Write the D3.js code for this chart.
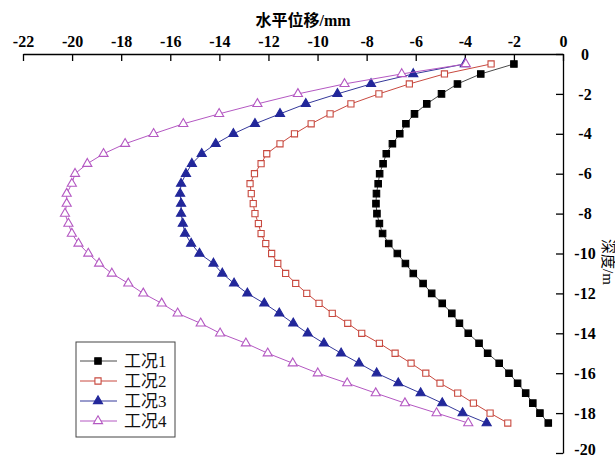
<!DOCTYPE html>
<html><head><meta charset="utf-8">
<script src="https://cdn.jsdelivr.net/npm/d3@7/dist/d3.min.js"></script>
<style>body{margin:0;background:#fff}svg{display:block}</style>
</head><body>
<svg id="c" width="615" height="460"></svg>
<script>
const depths = [0.5,1,1.5,2,2.5,3,3.5,4,4.5,5,5.5,6,6.5,7,7.5,8,8.5,9,9.5,10,10.5,11,11.5,12,12.5,13,13.5,14,14.5,15,15.5,16,16.5,17,17.5,18,18.5];
const case1 = [-2.0,-3.35,-4.3,-4.95,-5.55,-6.05,-6.4,-6.65,-6.95,-7.2,-7.33,-7.47,-7.53,-7.6,-7.62,-7.58,-7.48,-7.35,-7.1,-6.75,-6.42,-6.1,-5.7,-5.35,-4.92,-4.53,-4.22,-3.86,-3.42,-3.07,-2.6,-2.2,-1.85,-1.52,-1.23,-0.94,-0.6];
const case2 = [-2.93,-4.83,-6.26,-7.5,-8.64,-9.49,-10.26,-10.94,-11.53,-12.07,-12.3,-12.57,-12.75,-12.7,-12.62,-12.55,-12.41,-12.3,-12.11,-11.87,-11.62,-11.3,-10.89,-10.44,-9.94,-9.4,-8.77,-8.2,-7.48,-6.84,-6.19,-5.59,-5.01,-4.29,-3.65,-2.97,-2.25];
const case3 = [-4.0,-6.1,-7.82,-9.19,-10.48,-11.53,-12.55,-13.43,-14.15,-14.72,-15.12,-15.36,-15.56,-15.6,-15.56,-15.56,-15.49,-15.4,-15.15,-14.81,-14.24,-13.88,-13.4,-12.86,-12.17,-11.56,-10.99,-10.4,-9.74,-9.04,-8.31,-7.59,-6.71,-5.8,-4.92,-4.09,-3.11];
const case4 = [-3.96,-6.57,-8.9,-10.8,-12.45,-14.01,-15.47,-16.68,-17.84,-18.72,-19.38,-19.88,-20.01,-20.22,-20.22,-20.29,-20.15,-20.01,-19.74,-19.34,-18.9,-18.38,-17.71,-17.1,-16.35,-15.7,-14.76,-13.97,-12.92,-12.03,-11.01,-9.99,-8.79,-7.63,-6.44,-5.15,-3.86];
const seriesNames = ["工况1","工况2","工况3","工况4"];
const xTicks = [-22,-20,-18,-16,-14,-12,-10,-8,-6,-4,-2,0];
const yTicks = [0,-2,-4,-6,-8,-10,-12,-14,-16,-18,-20];
const xTitle = "水平位移/mm";
const yTitle = "深度/m";

const svg = d3.select("#c");
const x = d3.scaleLinear().domain([-22,0]).range([23,563]);
const y = d3.scaleLinear().domain([0,-20]).range([54,453]);
const latin = "'Liberation Serif','Times New Roman',serif";
const mixed = "'Liberation Serif','Noto Sans CJK SC',serif";

// top axis
const gx = svg.append("g").attr("transform",`translate(0,${y(0)})`)
  .call(d3.axisTop(x).tickValues(xTicks).tickSize(-7).tickSizeOuter(0).tickPadding(7).tickFormat(d=>String(d)));
gx.select(".domain").attr("stroke","#000").attr("stroke-width",1.3);
gx.selectAll(".tick line").attr("stroke","#000").attr("stroke-width",1.3);
gx.selectAll("text").attr("font-family",latin).attr("font-weight","bold").attr("font-size",16).attr("fill","#000");

// right axis
const gy = svg.append("g").attr("transform",`translate(${x(0)},0)`)
  .call(d3.axisRight(y).tickValues(yTicks).tickSize(-7).tickSizeOuter(0).tickPadding(22).tickFormat(d=>String(d)));
gy.select(".domain").attr("stroke","#000").attr("stroke-width",1.3);
gy.selectAll(".tick line").attr("stroke","#000").attr("stroke-width",1.3);
gy.selectAll("text").attr("text-anchor","middle").attr("font-family",latin).attr("font-weight","bold").attr("font-size",16).attr("fill","#000")
  .attr("dy",d=>d===-20 ? "0.12em" : "0.32em");

svg.append("text").attr("x",303).attr("y",26).attr("text-anchor","middle")
  .attr("font-family",mixed).attr("font-weight","bold").attr("font-size",16).text(xTitle);
svg.append("text").attr("transform","translate(603,262) rotate(90)").attr("text-anchor","middle")
  .attr("font-family",mixed).attr("font-size",15).text(yTitle);

const styles = [
  {data:case1, line:"#4a4a4a", sym:d3.symbolSquare, size:42, fill:"#000", stroke:"#000"},
  {data:case2, line:"#c8493f", sym:d3.symbolSquare, size:38, fill:"#fff", stroke:"#c8493f"},
  {data:case3, line:"#34389a", sym:d3.symbolTriangle, size:36, fill:"#22279a", stroke:"#22279a"},
  {data:case4, line:"#b458c2", sym:d3.symbolTriangle, size:36, fill:"#fff", stroke:"#b458c2"}
];
const line = d3.line().x(d=>x(d[0])).y(d=>y(-d[1]));
styles.forEach(s=>{
  const pts = s.data.map((v,i)=>[v,depths[i]]);
  svg.append("path").datum(pts).attr("d",line).attr("fill","none").attr("stroke",s.line).attr("stroke-width",1);
  svg.append("g").selectAll("path").data(pts).join("path")
    .attr("transform",d=>`translate(${x(d[0])},${y(-d[1])})`)
    .attr("d",d3.symbol(s.sym,s.size)).attr("fill",s.fill).attr("stroke",s.stroke).attr("stroke-width",1.1);
});

// legend
const lg = svg.append("g");
lg.append("rect").attr("x",76).attr("y",342).attr("width",99).attr("height",95).attr("fill","#fff").attr("stroke","#444").attr("stroke-width",1);
const ly = d3.scalePoint().domain(seriesNames).range([361,421]);
styles.forEach((s,i)=>{
  const yy = ly(seriesNames[i]);
  lg.append("line").attr("x1",80).attr("x2",117).attr("y1",yy).attr("y2",yy).attr("stroke",s.line).attr("stroke-width",1);
  lg.append("path").attr("transform",`translate(98,${yy})`).attr("d",d3.symbol(s.sym,s.size)).attr("fill",s.fill).attr("stroke",s.stroke).attr("stroke-width",1.1);
  lg.append("text").attr("x",124).attr("y",yy+6).attr("font-family",mixed).attr("font-size",17).attr("fill","#111").text(seriesNames[i]);
});
</script>
</body></html>
